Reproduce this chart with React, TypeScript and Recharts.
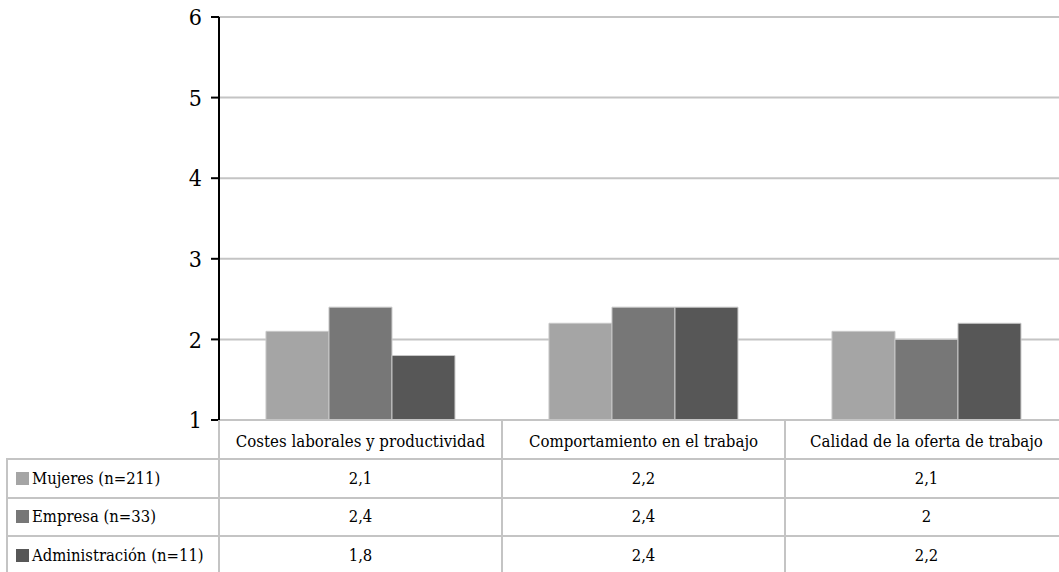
import { BarChart, Bar, XAxis, YAxis, CartesianGrid } from 'recharts';

const categories = [
  'Costes laborales y productividad',
  'Comportamiento en el trabajo',
  'Calidad de la oferta de trabajo',
];
const mujeres = [2.1, 2.2, 2.1];
const empresa = [2.4, 2.4, 2.0];
const administracion = [1.8, 2.4, 2.2];
const yTicks = [1, 2, 3, 4, 5, 6];

const series = [
  { key: 'mujeres', name: 'Mujeres (n=211)', color: '#a5a5a5', values: mujeres },
  { key: 'empresa', name: 'Empresa (n=33)', color: '#777777', values: empresa },
  { key: 'administracion', name: 'Administración (n=11)', color: '#575757', values: administracion },
];

const chartData = categories.map((name, i) => ({
  name,
  mujeres: mujeres[i],
  empresa: empresa[i],
  administracion: administracion[i],
}));

const FONT = "'DejaVu Serif Condensed', 'DejaVu Serif', serif";
const GRID = '#c4c4c4';

// chart geometry
const W = 1068;
const H = 572;
const PLOT_LEFT = 219;
const PLOT_TOP = 17;
const PLOT_BOTTOM = 420;
const X_AXIS_H = 40;
const COL_W = (W - PLOT_LEFT) / categories.length;
const ROW_TOPS = [459, 497.5, 536];
const ROW_H = 38.5;

const fmt = (v: number) => String(v).replace('.', ',');

const App = () => {
  return (
    <div
      style={{
        position: 'absolute',
        left: 0,
        top: 0,
        width: 1059,
        height: 572,
        overflow: 'hidden',
        background: '#fff',
        fontFamily: FONT,
      }}
    >
      <BarChart
        width={W}
        height={H}
        data={chartData}
        margin={{ top: PLOT_TOP, right: 0, left: 0, bottom: H - PLOT_BOTTOM - X_AXIS_H }}
        barCategoryGap="16.6%"
        barGap={0}
        style={{ fontFamily: FONT }}
      >
        <CartesianGrid vertical={false} stroke={GRID} strokeWidth={2} />
        <XAxis
          dataKey="name"
          height={X_AXIS_H}
          axisLine={{ stroke: GRID, strokeWidth: 2 }}
          tickLine={false}
          tickSize={0}
          tickMargin={15}
          interval={0}
          tick={{ fill: '#000', fontSize: 16.7, fontFamily: FONT }}
        />
        <YAxis
          width={PLOT_LEFT}
          domain={[1, 6]}
          ticks={yTicks}
          interval={0}
          axisLine={{ stroke: '#000', strokeWidth: 2 }}
          tickLine={{ stroke: '#000', strokeWidth: 2 }}
          tickSize={8}
          tickMargin={9}
          tick={{ fill: '#000', fontSize: 23, fontFamily: FONT }}
        />
        {series.map((s) => (
          <Bar
            key={s.key}
            dataKey={s.key}
            name={s.name}
            fill={s.color}
            stroke="#c8c8c8"
            strokeWidth={1}
            isAnimationActive={false}
          />
        ))}
      </BarChart>

      {/* data table under the chart */}
      {categories.map((_, i) => (
        <div
          key={`v-${i}`}
          style={{
            position: 'absolute',
            left: PLOT_LEFT + COL_W * i - 1,
            top: PLOT_BOTTOM,
            width: 2,
            height: H - PLOT_BOTTOM,
            background: GRID,
          }}
        />
      ))}
      <div
        style={{
          position: 'absolute',
          left: 6,
          top: ROW_TOPS[0],
          width: 2,
          height: H - ROW_TOPS[0],
          background: GRID,
        }}
      />
      {ROW_TOPS.map((t, i) => (
        <div
          key={`h-${i}`}
          style={{
            position: 'absolute',
            left: 6,
            top: t - 1,
            width: W,
            height: 2,
            background: GRID,
          }}
        />
      ))}
      {series.map((s, r) => (
        <div key={`row-${s.key}`}>
          <div
            style={{
              position: 'absolute',
              left: 9,
              top: ROW_TOPS[r],
              height: ROW_H,
              display: 'flex',
              alignItems: 'center',
              fontSize: 16.5,
              color: '#000',
              whiteSpace: 'nowrap',
            }}
          >
            <span
              style={{
                display: 'inline-block',
                width: 13,
                height: 13,
                background: s.color,
                marginRight: 3,
                marginLeft: 7,
              }}
            />
            {s.name}
          </div>
          {s.values.map((v, c) => (
            <div
              key={`cell-${r}-${c}`}
              style={{
                position: 'absolute',
                left: PLOT_LEFT + COL_W * c,
                top: ROW_TOPS[r],
                width: COL_W,
                height: ROW_H,
                display: 'flex',
                alignItems: 'center',
                justifyContent: 'center',
                fontSize: 16.5,
                color: '#000',
              }}
            >
              {fmt(v)}
            </div>
          ))}
        </div>
      ))}
    </div>
  );
};

export default App;
